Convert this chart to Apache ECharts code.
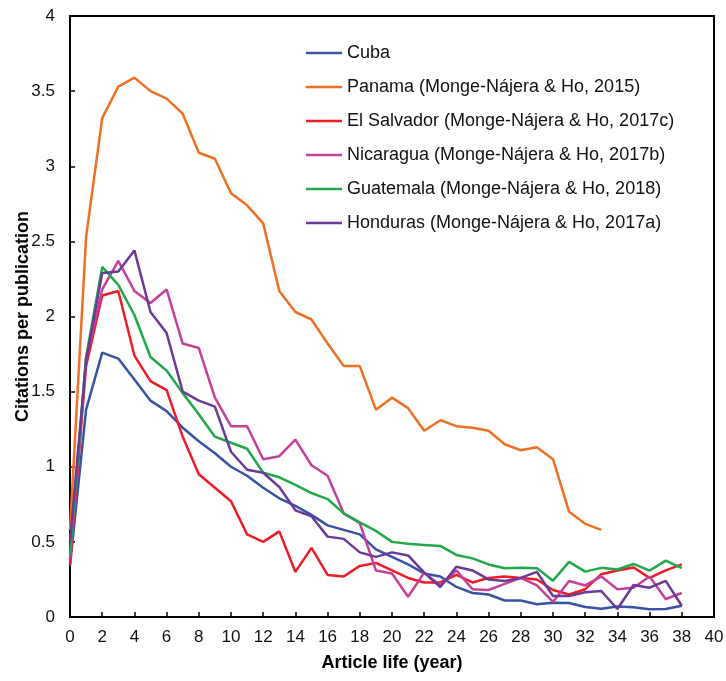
<!DOCTYPE html>
<html>
<head>
<meta charset="utf-8">
<title>Citations per publication</title>
<script src="https://cdn.jsdelivr.net/npm/echarts@6/dist/echarts.min.js"></script>
<style>
  html, body { margin:0; padding:0; background:#fff; }
  #chart1 { width:726px; height:681px; }
</style>
</head>
<body>
<div id="chart1"></div>
<script>
  // 数据
  var years = [0,1,2,3,4,5,6,7,8,9,10,11,12,13,14,15,16,17,18,19,20,21,22,23,24,25,26,27,28,29,30,31,32,33,34,35,36,37,38];
  var names = ['Cuba',
               'Panama (Monge-Nájera & Ho, 2015)',
               'El Salvador (Monge-Nájera & Ho, 2017c)',
               'Nicaragua (Monge-Nájera & Ho, 2017b)',
               'Guatemala (Monge-Nájera & Ho, 2018)',
               'Honduras (Monge-Nájera & Ho, 2017a)'];
  var colors = ['#3953a4','#f07023','#ee1c25','#c44199','#20a84a','#6b3a96'];

  var cuba = [0.34,1.38,1.76,1.72,1.58,1.44,1.37,1.26,1.17,1.09,1.00,0.94,0.86,0.79,0.74,0.68,0.61,0.58,0.55,0.45,
              0.40,0.35,0.29,0.27,0.20,0.16,0.15,0.11,0.11,0.085,0.095,0.093,0.067,0.055,0.07,0.065,0.051,0.053,0.075];
  var panama = [0.58,2.53,3.32,3.53,3.59,3.50,3.45,3.35,3.09,3.05,2.82,2.74,2.62,2.17,2.03,1.98,1.82,1.67,1.67,1.38,
                1.46,1.39,1.24,1.31,1.27,1.26,1.24,1.15,1.11,1.13,1.05,0.70,0.62,0.58];
  var salvador = [0.35,1.67,2.14,2.17,1.74,1.57,1.51,1.20,0.95,0.86,0.77,0.55,0.50,0.57,0.30,0.46,0.28,0.27,0.34,0.36,
                  0.31,0.26,0.23,0.23,0.28,0.23,0.26,0.27,0.26,0.25,0.18,0.15,0.185,0.285,0.31,0.33,0.26,0.31,0.35];
  var nicaragua = [0.38,1.72,2.18,2.37,2.17,2.09,2.18,1.82,1.79,1.46,1.27,1.27,1.05,1.07,1.18,1.01,0.94,0.69,0.625,0.31,
                   0.29,0.135,0.295,0.21,0.31,0.185,0.18,0.22,0.26,0.21,0.10,0.24,0.21,0.27,0.185,0.195,0.27,0.12,0.16];
  var guatemala = [0.42,1.73,2.33,2.21,2.01,1.73,1.64,1.49,1.35,1.20,1.16,1.12,0.96,0.93,0.88,0.825,0.785,0.69,0.63,0.573,
                   0.50,0.487,0.48,0.473,0.413,0.39,0.35,0.325,0.327,0.325,0.242,0.367,0.302,0.327,0.316,0.353,0.309,0.375,0.325];
  var honduras = [0.50,1.71,2.29,2.30,2.44,2.03,1.89,1.50,1.44,1.40,1.10,0.98,0.96,0.865,0.71,0.67,0.535,0.52,0.43,0.40,
                  0.43,0.41,0.295,0.20,0.335,0.31,0.25,0.24,0.26,0.30,0.14,0.14,0.165,0.173,0.053,0.213,0.195,0.24,0.075];
  var values = [cuba, panama, salvador, nicaragua, guatemala, honduras];

  var font = 'Liberation Sans, Arial, sans-serif';

  // 组装 series
  var series = [];
  for (var i = 0; i < values.length; i++) {
      var pts = [];
      for (var j = 0; j < values[i].length; j++) {
          pts.push([years[j], values[i][j]]);
      }
      series.push({
          name: names[i],
          type: 'line',
          data: pts,
          symbol: 'none',
          color: colors[i],
          lineStyle: { width: 2.5, color: colors[i] },
          z: 2 + i
      });
  }

  var myChart = echarts.init(document.getElementById('chart1'));
  var option = {
      animation: false,
      textStyle: { fontFamily: font, color: '#000' },
      grid: {
          left: 70, right: 12, top: 16, bottom: 64,
          containLabel: false,
          outerBoundsMode: 'none',
          show: true, borderColor: '#000', borderWidth: 2, backgroundColor: '#fff'
      },
      legend: {
          orient: 'vertical',
          left: 306, top: 43,
          padding: 0,
          icon: 'rect',
          itemWidth: 36, itemHeight: 2.5, itemGap: 14,
          textStyle: { fontFamily: font, fontSize: 18, color: '#111', lineHeight: 20 },
          data: names
      },
      xAxis: {
          type: 'value',
          min: 0, max: 40, interval: 2,
          name: 'Article life (year)',
          nameLocation: 'middle',
          nameGap: 37,
          nameTextStyle: { fontFamily: font, fontSize: 18, fontWeight: 'bold', color: '#000' },
          axisLine: { show: true, lineStyle: { color: '#000', width: 2 } },
          axisTick: { show: true, inside: true, length: 5, lineStyle: { color: '#000', width: 1.5 } },
          axisLabel: { fontSize: 17, color: '#111', margin: 12, fontFamily: font },
          splitLine: { show: false }
      },
      yAxis: {
          type: 'value',
          min: 0, max: 4, interval: 0.5,
          name: 'Citations per publication',
          nameLocation: 'middle',
          nameGap: 38,
          nameMoveOverlap: false,
          nameTextStyle: { fontFamily: font, fontSize: 18, fontWeight: 'bold', color: '#000' },
          axisLine: { show: true, lineStyle: { color: '#000', width: 2 } },
          axisTick: { show: true, inside: true, length: 5, lineStyle: { color: '#000', width: 1.5 } },
          axisLabel: { fontSize: 17, color: '#111', margin: 15, fontFamily: font },
          splitLine: { show: false }
      },
      series: series
  };

  // 显示图表
  myChart.setOption(option);
</script>
</body>
</html>
